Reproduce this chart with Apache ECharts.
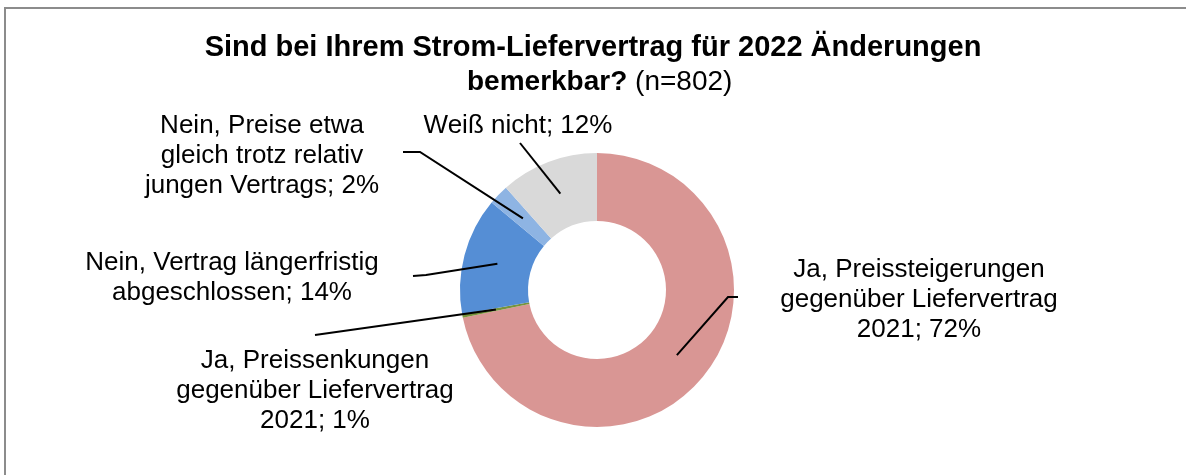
<!DOCTYPE html>
<html lang="de">
<head>
    <meta charset="UTF-8">
    <title>Strom-Liefervertrag 2022</title>
    <style>
        html, body { margin: 0; padding: 0; background: #fff; }
        #main { width: 1186px; height: 475px; }
    </style>
</head>
<body>
<div id="main"></div>
<script src="https://cdn.jsdelivr.net/npm/echarts@6/dist/echarts.min.js"></script>
<script>
    // Kategorien (Zeilenumbrueche wie im Original)
    var categories = [
        'Ja, Preissteigerungen\ngegenüber Liefervertrag\n2021',
        'Ja, Preissenkungen\ngegenüber Liefervertrag\n2021',
        'Nein, Vertrag längerfristig\nabgeschlossen',
        'Nein, Preise etwa\ngleich trotz relativ\njungen Vertrags',
        'Weiß nicht'
    ];
    var values = [71.9, 0.4, 13.9, 2.4, 11.6];
    // angezeigte Prozentwerte
    var shownPercent = [72, 1, 14, 2, 12];
    var colors = ['#D99694', '#77933C', '#558ED5', '#8EB4E3', '#D9D9D9'];

    var font = '"Liberation Sans", Arial, sans-serif';
    var center = [597, 290];
    var rIn = 69, rOut = 137;

    // Lage der Beschriftungen und Knick/Ende der Fuehrungslinien
    var labelPos = [
        { x: 919, y: 300, knee: [728, 297], end: [738, 297] },
        { x: 315, y: 391, knee: [315, 335], end: [315, 335] },
        { x: 232, y: 278, knee: [426, 275], end: [413, 276] },
        { x: 262, y: 156, knee: [420, 152], end: [403, 152] },
        { x: 518, y: 126, knee: [520, 143], end: [520, 143] }
    ];

    var pieData = [];
    for (var i = 0; i < categories.length; i++) {
        pieData.push({
            name: categories[i],
            value: values[i],
            pct: shownPercent[i],
            itemStyle: { color: colors[i] }
        });
    }

    var myChart = echarts.init(document.getElementById('main'));
    myChart.setOption({
        backgroundColor: '#fff',
        animation: false,
        title: [{
            left: 'center',
            top: 31,
            padding: 0,
            text: 'Sind bei Ihrem Strom-Liefervertrag für 2022 Änderungen',
            textStyle: { fontFamily: font, fontSize: 29, fontWeight: 'bold', color: '#000', lineHeight: 34 }
        }, {
            left: 467,
            top: 65,
            padding: 0,
            text: '{b|bemerkbar?}{r| (n=802)}',
            textStyle: {
                rich: {
                    b: { fontFamily: font, fontSize: 28, fontWeight: 'bold', color: '#000', lineHeight: 34 },
                    r: { fontFamily: font, fontSize: 28, fontWeight: 'normal', color: '#000', lineHeight: 34 }
                }
            }
        }],
        series: [{
            type: 'pie',
            center: center,
            radius: [rIn, rOut],
            startAngle: 90,
            clockwise: true,
            avoidLabelOverlap: false,
            data: pieData,
            itemStyle: { borderWidth: 0 },
            emphasis: { disabled: true },
            label: {
                show: true,
                position: 'outside',
                fontFamily: font,
                fontSize: 26,
                lineHeight: 30,
                color: '#000',
                align: 'center',
                formatter: function (p) {
                    return p.name + '; ' + p.data.pct + '%';
                }
            },
            labelLine: { show: false },
            labelLayout: function (params) {
                var L = labelPos[params.dataIndex];
                return { x: L.x, y: L.y, align: 'center', verticalAlign: 'middle' };
            }
        }]
    });

    // Fuehrungslinien: Start in der Ringmitte, auf der Mittelachse jedes Segments
    var data = myChart.getModel().getSeriesByIndex(0).getData();
    var graphics = [{
        type: 'rect',
        shape: { x: 5, y: 8, width: 1300, height: 600 },
        style: { fill: 'none', stroke: '#8c8c8c', lineWidth: 2 },
        silent: true
    }];
    for (var j = 0; j < labelPos.length; j++) {
        var lay = data.getItemLayout(j);
        var mid = (lay.startAngle + lay.endAngle) / 2;
        var rm = (lay.r0 + lay.r) / 2;
        var start = [lay.cx + rm * Math.cos(mid), lay.cy + rm * Math.sin(mid)];
        graphics.push({
            type: 'polyline',
            shape: { points: [start, labelPos[j].knee, labelPos[j].end] },
            style: { stroke: '#000', lineWidth: 2, fill: null },
            silent: true,
            z: 10
        });
    }
    myChart.setOption({ graphic: graphics });
</script>
</body>
</html>
